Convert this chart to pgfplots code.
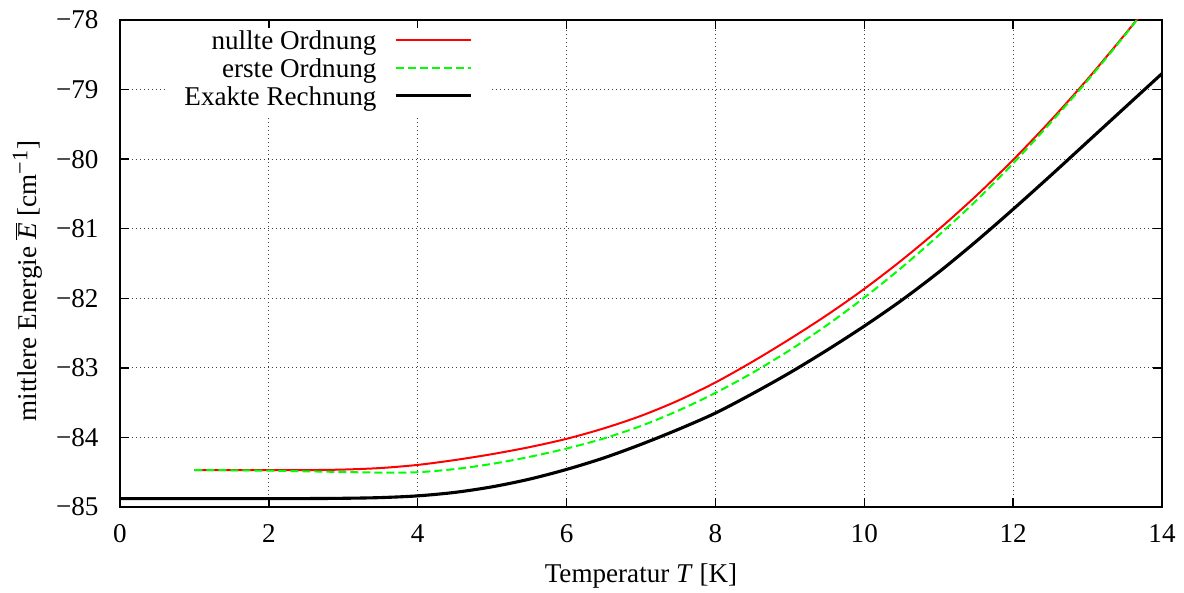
\documentclass[border=0pt]{standalone}
\usepackage{fontspec}
\setmainfont{Liberation Serif}
\usepackage{pgfplots}
\pgfplotsset{compat=1.18}

\definecolor{gpred}{RGB}{255,0,0}
\definecolor{gpgreen}{RGB}{0,255,0}

\begin{document}
\begin{tikzpicture}[font=\fontsize{12.2}{14.6}\selectfont]
% fixed page: 1 px of the reference = 0.45pt
\path[use as bounding box] (-54pt,-38.7pt) rectangle (478.8pt,228.15pt);
\begin{axis}[
    scale only axis,
    width=468.9pt,
    height=219.15pt,
    xmin=0, xmax=14,
    ymin=-85, ymax=-78,
    xtick={0,2,...,14},
    ytick={-85,-84,...,-78},
    yticklabels={−85,−84,−83,−82,−81,−80,−79,−78},
    /pgf/number format/assume math mode=true,
    tick align=inside,
    major tick length=4pt,
    axis line style={line width=0.8pt},
    every tick/.style={black, line width=0.6pt},
    grid=major,
    grid style={black!75, line width=0.45pt, dash pattern=on 0.45pt off 1.35pt},
    xticklabel style={anchor=base, yshift=-16.2pt},
    yticklabel style={anchor=east, inner sep=0pt, xshift=-9.45pt},
    xlabel={Temperatur \textit{T} [K]},
    ylabel={mittlere Energie $\overline{\mbox{\textit{E}}}$ [cm$^{\mbox{\fontsize{10}{12}\selectfont −1}}$]},
    xlabel style={at={(axis description cs:0.5,-0.156)}, anchor=base},
    ylabel style={at={(axis description cs:-0.0797,0.464)}, anchor=base},
    legend style={at={(axis description cs:0.3551,0.9836)}, anchor=north east,
        draw=none, fill=white, inner xsep=7.65pt, inner ysep=1pt,
        column sep=8.1pt, row sep=0pt,
        nodes={inner sep=0pt, text height=8.6pt, text depth=4pt}},
    legend cell align=right,
    legend plot pos=right,
    legend image code/.code={\draw[#1] (0pt,2.2pt) -- (33.75pt,2.2pt);},
]
% nullte Ordnung
\addplot[gpred, line width=0.9pt, smooth] coordinates {
    (1,-84.47) (1.5,-84.47) (2,-84.47) (2.5,-84.47) (3,-84.462) (3.5,-84.44)
    (4,-84.395) (4.5,-84.325) (5,-84.24) (5.5,-84.14) (6,-84.02) (6.5,-83.87)
    (7,-83.69) (7.5,-83.47) (8,-83.21) (8.5,-82.91) (9,-82.585) (9.5,-82.24)
    (10,-81.865) (10.5,-81.455) (11,-81.01) (11.5,-80.53) (12,-80.01)
    (12.5,-79.45) (13,-78.85) (13.5,-78.21) (13.8,-77.81)
};
% erste Ordnung
\addplot[gpgreen, line width=0.9pt, dash pattern=on 3.6pt off 1.8pt, smooth] coordinates {
    (1,-84.47) (1.5,-84.472) (2,-84.478) (2.5,-84.487) (3,-84.497) (3.5,-84.505)
    (4,-84.50) (4.5,-84.455) (5,-84.38) (5.5,-84.28) (6,-84.16) (6.5,-84.015)
    (7,-83.835) (7.5,-83.615) (8,-83.36) (8.5,-83.07) (9,-82.745) (9.5,-82.385)
    (10,-81.99) (10.5,-81.56) (11,-81.095) (11.5,-80.60) (12,-80.06)
    (12.5,-79.48) (13,-78.87) (13.5,-78.22) (13.8,-77.81)
};
% exakte Rechnung
\addplot[black, line width=1.4pt, smooth] coordinates {
    (0,-84.88) (0.5,-84.88) (1,-84.88) (1.5,-84.88) (2,-84.88) (2.5,-84.879)
    (3,-84.875) (3.5,-84.865) (4,-84.84) (4.5,-84.79) (5,-84.71) (5.5,-84.60)
    (6,-84.46) (6.5,-84.295) (7,-84.10) (7.5,-83.885) (8,-83.65) (8.5,-83.37)
    (9,-83.07) (9.5,-82.745) (10,-82.40) (10.5,-82.03) (11,-81.625)
    (11.5,-81.185) (12,-80.72) (12.5,-80.24) (13,-79.75) (13.5,-79.26)
    (14,-78.77)
};
\legend{nullte Ordnung, erste Ordnung, Exakte Rechnung}
\end{axis}
\end{tikzpicture}
\end{document}
